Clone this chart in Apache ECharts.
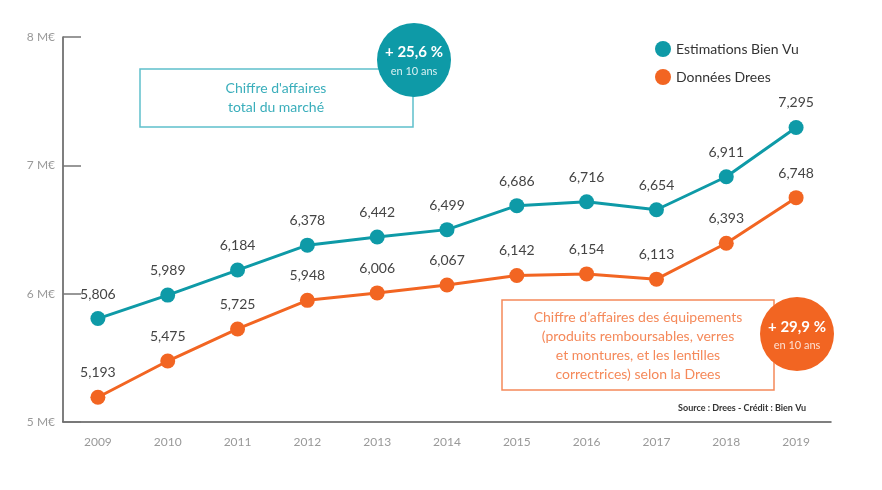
<!DOCTYPE html>
<html>
<head>
<meta charset="utf-8">
<script src="https://cdn.jsdelivr.net/npm/echarts@6/dist/echarts.min.js"></script>
<style>
  html, body { margin: 0; padding: 0; background: #fff; }
  #chart { width: 882px; height: 490px; }
</style>
</head>
<body>
<div id="chart"></div>
<script>
const years = ['2009', '2010', '2011', '2012', '2013', '2014', '2015', '2016', '2017', '2018', '2019'];
const bienVu = [5.806, 5.989, 6.184, 6.378, 6.442, 6.499, 6.686, 6.716, 6.654, 6.911, 7.295];
const drees = [5.193, 5.475, 5.725, 5.948, 6.006, 6.067, 6.142, 6.154, 6.113, 6.393, 6.748];
const yTicks = ['5 M€', '6 M€', '7 M€', '8 M€'];

const TEAL = '#0e9aa7';
const ORANGE = '#f26522';
const FONT = 'Lato';

const chart = echarts.init(document.getElementById('chart'));

// libellés au format français : 5,806
const fmt = p => p.value.toFixed(3).replace('.', ',');

function lineSeries(name, data, color) {
  return {
    name: name,
    type: 'line',
    data: data,
    symbol: 'circle',
    symbolSize: 15,
    lineStyle: { color: color, width: 3 },
    itemStyle: { color: color },
    label: {
      show: true,
      position: 'top',
      distance: 10,
      formatter: fmt,
      color: '#444',
      fontSize: 14,
      fontFamily: FONT
    }
  };
}

const option = {
  backgroundColor: '#ffffff',
  animation: false,
  textStyle: { fontFamily: FONT },
  legend: {
    orient: 'vertical',
    left: 650,
    top: 36,
    itemGap: 12,
    itemWidth: 16,
    itemHeight: 16,
    icon: 'circle',
    textStyle: { color: '#333', fontSize: 14, fontFamily: FONT },
    data: ['Estimations Bien Vu', 'Données Drees']
  },
  grid: { left: 63, right: 51, top: 37, bottom: 68 },
  xAxis: {
    type: 'category',
    data: years,
    boundaryGap: true,
    axisLine: { lineStyle: { color: '#555', width: 1.5 } },
    axisTick: { inside: true, length: 10, lineStyle: { color: '#555' } },
    axisLabel: { color: '#999', fontSize: 12, margin: 14, fontFamily: FONT }
  },
  yAxis: {
    type: 'value',
    min: 5,
    max: 8,
    interval: 1,
    splitLine: { show: false },
    axisLine: { show: true, lineStyle: { color: '#555', width: 1.5 } },
    axisTick: { show: true, inside: true, length: 18, lineStyle: { color: '#777', width: 1.5 } },
    axisLabel: {
      color: '#999',
      fontSize: 12,
      margin: 8,
      fontFamily: FONT,
      formatter: v => yTicks[v - 5]
    }
  },
  graphic: [
    {
      type: 'rect',
      shape: { x: 140, y: 69, width: 273, height: 58 },
      style: { fill: '#fff', stroke: '#5fc0cb', lineWidth: 1.5 }
    },
    {
      type: 'text',
      x: 276, y: 98,
      style: {
        text: "Chiffre d'affaires\ntotal du marché",
        fill: '#3aaebb', fontSize: 14, lineHeight: 19,
        align: 'center', verticalAlign: 'middle', fontFamily: FONT
      }
    },
    {
      type: 'circle',
      shape: { cx: 414, cy: 60, r: 37 },
      style: { fill: TEAL }
    },
    {
      type: 'text',
      x: 414, y: 52,
      style: {
        text: '+ 25,6 %', fill: '#fff', fontSize: 15, fontWeight: 'bold',
        align: 'center', verticalAlign: 'middle', fontFamily: FONT
      }
    },
    {
      type: 'text',
      x: 414, y: 71,
      style: {
        text: 'en 10 ans', fill: '#d8f0f2', fontSize: 11,
        align: 'center', verticalAlign: 'middle', fontFamily: FONT
      }
    },
    {
      type: 'rect',
      shape: { x: 502, y: 300, width: 272, height: 90 },
      style: { fill: '#fff', stroke: '#f5895a', lineWidth: 1.5 }
    },
    {
      type: 'text',
      x: 638, y: 346,
      style: {
        text: "Chiffre d’affaires des équipements\n(produits remboursables, verres\net montures, et les lentilles\ncorrectrices) selon la Drees",
        fill: '#f5895a', fontSize: 14, lineHeight: 19,
        align: 'center', verticalAlign: 'middle', fontFamily: FONT
      }
    },
    {
      type: 'circle',
      shape: { cx: 797, cy: 334, r: 37 },
      style: { fill: ORANGE }
    },
    {
      type: 'text',
      x: 797, y: 327,
      style: {
        text: '+ 29,9 %', fill: '#fff', fontSize: 15, fontWeight: 'bold',
        align: 'center', verticalAlign: 'middle', fontFamily: FONT
      }
    },
    {
      type: 'text',
      x: 797, y: 345,
      style: {
        text: 'en 10 ans', fill: '#fde0d2', fontSize: 11,
        align: 'center', verticalAlign: 'middle', fontFamily: FONT
      }
    },
    {
      type: 'text',
      x: 806, y: 408,
      style: {
        text: 'Source : Drees - Crédit : Bien Vu', fill: '#333', fontSize: 9,
        fontWeight: 'bold', align: 'right', verticalAlign: 'middle', fontFamily: FONT
      }
    }
  ],
  series: [
    lineSeries('Estimations Bien Vu', bienVu, TEAL),
    lineSeries('Données Drees', drees, ORANGE)
  ]
};

chart.setOption(option);
</script>
</body>
</html>
